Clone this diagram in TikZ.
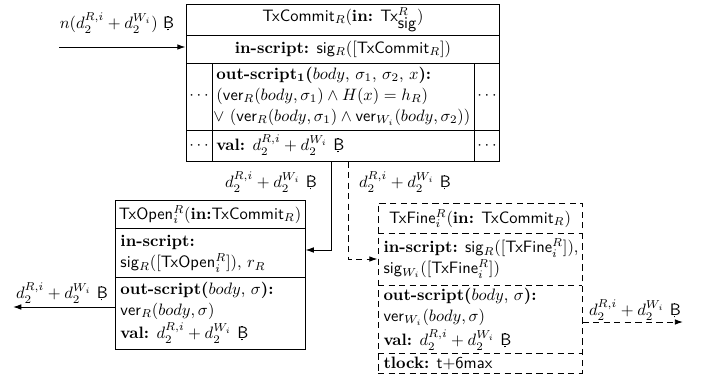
\documentclass[tikz,border=0pt]{standalone}
\usetikzlibrary{arrows.meta,fit}
\newcommand\btc{\mbox{\rlap{\hspace{0.25em}\rule[-0.22ex]{0.08em}{0.22ex}}\rlap{\hspace{0.25em}\rule[1.58ex]{0.08em}{0.25ex}}\textsf{B}}}
\begin{document}
\begin{tikzpicture}[x=0.606pt,y=-0.606pt, line width=0.6pt,
  arr/.style={-{Latex[length=5pt,width=3.4pt]}},
  dsh/.style={dash pattern=on 3.8pt off 2.6pt},
  lbl/.style={inner sep=0pt},
  txt/.style={inner sep=0pt, anchor=west},
  frame/.style={draw, inner sep=0pt},
  dframe/.style={draw, dsh, inner sep=0pt}]
\useasboundingbox (0,0) rectangle (701,377);

% ---------- TxCommit ----------
\node[frame, fit={(186,4)(499,161)}] (commit) {};
\draw (186,35) -- (499,35);
\draw (186,63) -- (499,63);
\draw (186,130) -- (499,130);
\draw (212,63) -- (212,161);
\draw (474,63) -- (474,161);
\node[lbl] (cTitle) at (343,19.5) {\textsf{TxCommit}$_R$(\textbf{in:} \textsf{Tx}$^R_{\textsf{sig}}$)};
\node[lbl] (cIn) at (343,49) {\textbf{in-script:} \textsf{sig}$_R$([\textsf{TxCommit}$_R$])};
\node[txt] (cOut1) at (216,75) {\textbf{out-script$_{\mathbf{1}}$(}$body$, $\sigma_1$, $\sigma_2$, $x$\textbf{):}};
\node[txt] (cOut2) at (216,96) {(\textsf{ver}$_R(body,\sigma_1)\wedge H(x)=h_R$)};
\node[txt] (cOut3) at (213,117) {$\vee$ (\textsf{ver}$_R(body,\sigma_1)\wedge{}$\textsf{ver}$_{W_i}(body,\sigma_2)$)};
\node[txt] (cVal) at (216,145) {\textbf{val:} $d_2^{R,i}+d_2^{W_i}$ \btc};
\node[lbl] (cd1) at (199,96) {$\cdots$};
\node[lbl] (cd2) at (199,146) {$\cdots$};
\node[lbl] (cd3) at (487,96) {$\cdots$};
\node[lbl] (cd4) at (487,146) {$\cdots$};

% ---------- TxOpen ----------
\node[frame, fit={(115,200)(305,349)}] (open) {};
\draw (115,228) -- (305,228);
\draw (115,277) -- (305,277);
\node[lbl] (oTitle) at (210,214.5) {\textsf{TxOpen}$_i^R$(\textbf{in:}\textsf{TxCommit}$_R$)};
\node[txt] (oIn1) at (120,242) {\textbf{in-script:}};
\node[txt] (oIn2) at (120,263) {\textsf{sig}$_R$([\textsf{TxOpen}$_i^R$]), $r_R$};
\node[txt] (oOut1) at (120,290) {\textbf{out-script(}$body$, $\sigma$\textbf{):}};
\node[txt] (oOut2) at (120,311) {\textsf{ver}$_R(body,\sigma)$};
\node[txt] (oVal) at (120,333) {\textbf{val:} $d_2^{R,i}+d_2^{W_i}$ \btc};

% ---------- TxFine ----------
\node[dframe, fit={(378,203)(582,373)}] (fine) {};
\draw[dsh] (378,233) -- (582,233);
\draw[dsh] (378,285) -- (582,285);
\draw[dsh] (378,353) -- (582,353);
\node[lbl] (fTitle) at (480,218.5) {\textsf{TxFine}$_i^R$(\textbf{in:} \textsf{TxCommit}$_R$)};
\node[txt] (fIn1) at (383,248) {\textbf{in-script:} \textsf{sig}$_R$([\textsf{TxFine}$_i^R$]),};
\node[txt] (fIn2) at (383,269) {\textsf{sig}$_{W_i}$([\textsf{TxFine}$_i^R$])};
\node[txt] (fOut1) at (383,296) {\textbf{out-script(}$body$, $\sigma$\textbf{):}};
\node[txt] (fOut2) at (383,317) {\textsf{ver}$_{W_i}(body,\sigma)$};
\node[txt] (fVal) at (383,340) {\textbf{val:} $d_2^{R,i}+d_2^{W_i}$ \btc};
\node[txt] (fLock) at (383,363) {\textbf{tlock:} \textsf{t+6max}};

% ---------- connectors ----------
\coordinate (inStart) at (59,47);
\draw[arr] (inStart) -- (commit.west |- inStart);
\node[lbl] (lIn) at (117,23) {$n(d_2^{R,i}+d_2^{W_i})$ \btc};

\coordinate (s1) at (331,250);
\draw[arr] (commit.south -| s1) |- (open.east |- s1);
\node[lbl] (lS1) at (271,182) {$d_2^{R,i}+d_2^{W_i}$ \btc};

\coordinate (s2) at (348,259);
\draw[arr,dsh] (commit.south -| s2) |- (fine.west |- s2);
\node[lbl] (lS2) at (405,182) {$d_2^{R,i}+d_2^{W_i}$ \btc};

\coordinate (o1) at (13,307);
\draw[arr] (open.west |- o1) -- (o1);
\node[lbl] (lO1) at (62,293) {$d_2^{R,i}+d_2^{W_i}$ \btc};

\coordinate (o2) at (683,322);
\draw[arr,dsh] (fine.east |- o2) -- (o2);
\node[lbl] (lO2) at (635,310) {$d_2^{R,i}+d_2^{W_i}$ \btc};
\end{tikzpicture}
\end{document}
